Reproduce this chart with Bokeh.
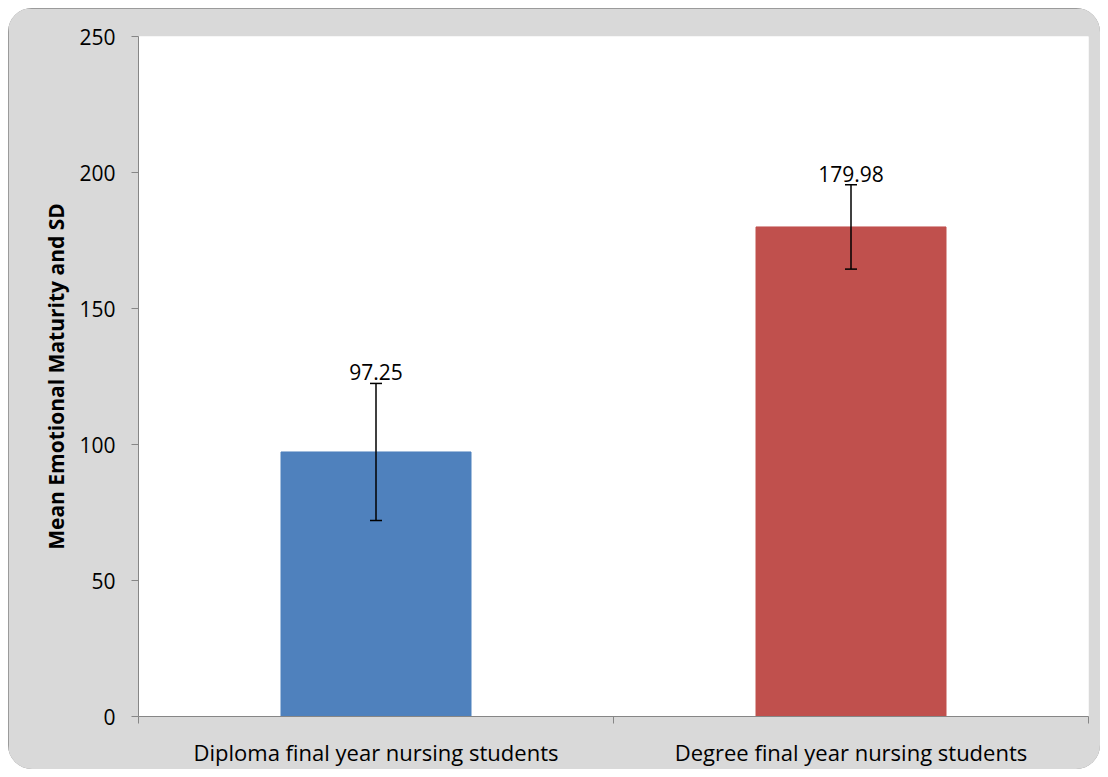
from bokeh.plotting import figure
from bokeh.models import ColumnDataSource, Whisker, TeeHead, FixedTicker, Range1d, LabelSet
from bokeh.core.properties import value
from bokeh.embed import file_html
from bokeh.resources import INLINE

categories = ["Diploma final year nursing students", "Degree final year nursing students"]
means = [97.25, 179.98]
sds = [25.2, 15.5]
colors = ["#4F81BD", "#C0504D"]
y_ticks = [0, 50, 100, 150, 200, 250]

xs = [i + 0.5 for i in range(len(categories))]
src = ColumnDataSource(dict(
    x=xs, top=means, color=colors,
    upper=[m + s for m, s in zip(means, sds)],
    lower=[m - s for m, s in zip(means, sds)],
    label=[f"{m:.2f}" for m in means],
))

FONT = "Open Sans"

p = figure(width=1092, height=761, output_backend="svg", toolbar_location=None,
           x_range=Range1d(0, len(categories)), y_range=Range1d(0, 250),
           min_border_left=130, min_border_right=12, min_border_top=28, min_border_bottom=50)
p.styles = {"border-radius": "24px", "overflow": "hidden",
            "box-shadow": "inset 0 0 0 1.5px #868686", "margin": "8px"}
p.border_fill_color = "#D9D9D9"
p.background_fill_color = "white"
p.outline_line_color = None
p.xgrid.visible = False
p.ygrid.visible = False

p.vbar(x="x", top="top", width=0.4, color="color", source=src)
p.add_layout(Whisker(source=src, base="x", upper="upper", lower="lower", level="overlay",
                     line_color="black", line_width=1.5,
                     upper_head=TeeHead(size=12, line_color="black", line_width=1.5),
                     lower_head=TeeHead(size=12, line_color="black", line_width=1.5)))
p.add_layout(LabelSet(x="x", y="upper", text="label", source=src, text_align="center",
                      text_baseline="bottom", y_offset=3, text_font=value(FONT),
                      text_font_size="21px", text_color="black", level="overlay"))

# y axis
p.yaxis.ticker = FixedTicker(ticks=y_ticks, minor_ticks=[])
p.yaxis.axis_line_color = "#868686"
p.yaxis.major_tick_line_color = "#868686"
p.yaxis.major_tick_out = 7
p.yaxis.major_tick_in = 0
p.yaxis.minor_tick_line_color = None
p.yaxis.major_label_text_font = FONT
p.yaxis.major_label_text_font_size = "21px"
p.yaxis.major_label_text_color = "black"
p.yaxis.major_label_standoff = 16
p.yaxis.axis_label = "Mean Emotional Maturity and SD"
p.yaxis.axis_label_text_font = FONT
p.yaxis.axis_label_text_font_style = "bold"
p.yaxis.axis_label_text_font_size = "21px"
p.yaxis.axis_label_text_color = "black"
p.yaxis.axis_label_standoff = 6

# x axis
p.xaxis.ticker = FixedTicker(ticks=xs, minor_ticks=list(range(len(categories) + 1)))
p.xaxis.major_label_overrides = {x: c for x, c in zip(xs, categories)}
p.xaxis.axis_line_color = "#868686"
p.xaxis.major_tick_line_color = None
p.xaxis.minor_tick_line_color = "#868686"
p.xaxis.minor_tick_out = 7
p.xaxis.minor_tick_in = 0
p.xaxis.major_label_text_font = FONT
p.xaxis.major_label_text_font_size = "22px"
p.xaxis.major_label_text_color = "black"
p.xaxis.major_label_standoff = 13

open("out.html", "w").write(file_html(p, INLINE))
